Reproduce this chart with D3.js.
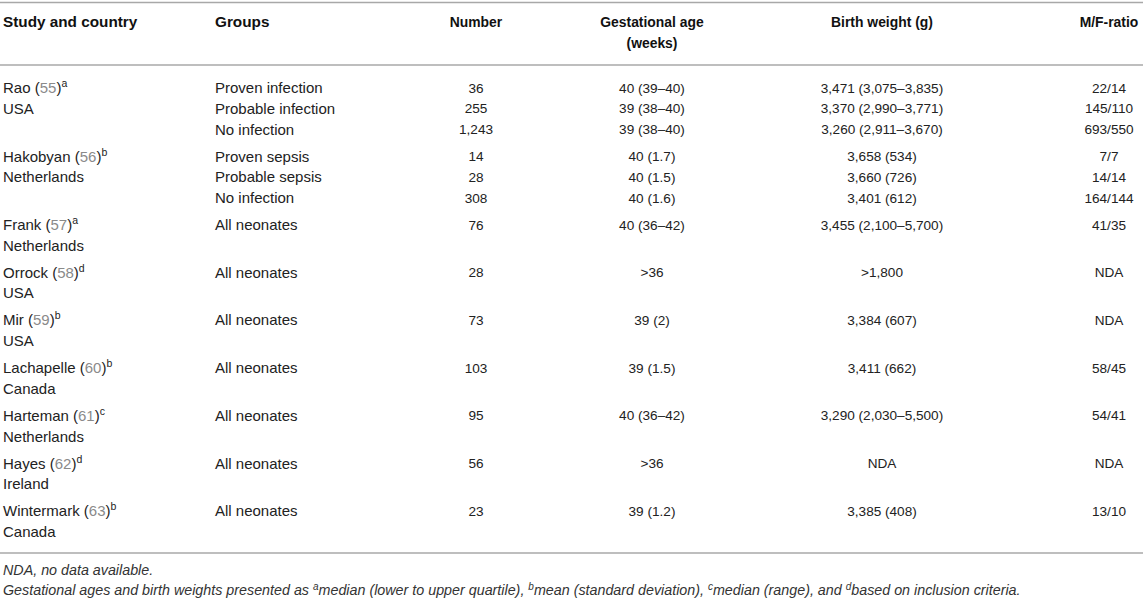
<!DOCTYPE html>
<html>
<head>
<meta charset="utf-8">
<script src="https://cdn.jsdelivr.net/npm/d3@7"></script>
<style>
  html, body { margin: 0; padding: 0; background: #fff; }
  svg { display: block; font-family: "Liberation Sans", Arial, Helvetica, sans-serif; }
</style>
</head>
<body>
<svg id="table" width="1143" height="601"></svg>
<script>
// table contents
const studies = ["Rao", "Hakobyan", "Frank", "Orrock", "Mir", "Lachapelle", "Harteman", "Hayes", "Wintermark"];
const refs = ["55", "56", "57", "58", "59", "60", "61", "62", "63"];
const notes = ["a", "b", "a", "d", "b", "b", "c", "d", "b"];
const countries = ["USA", "Netherlands", "Netherlands", "USA", "USA", "Canada", "Netherlands", "Ireland", "Canada"];
const groups = [
  ["Proven infection", "Probable infection", "No infection"],
  ["Proven sepsis", "Probable sepsis", "No infection"],
  ["All neonates"], ["All neonates"], ["All neonates"], ["All neonates"],
  ["All neonates"], ["All neonates"], ["All neonates"]
];
const numbers = [["36", "255", "1,243"], ["14", "28", "308"], ["76"], ["28"], ["73"], ["103"], ["95"], ["56"], ["23"]];
const gestAges = [
  ["40 (39–40)", "39 (38–40)", "39 (38–40)"],
  ["40 (1.7)", "40 (1.5)", "40 (1.6)"],
  ["40 (36–42)"], [">36"], ["39 (2)"], ["39 (1.5)"], ["40 (36–42)"], [">36"], ["39 (1.2)"]
];
const birthWeights = [
  ["3,471 (3,075–3,835)", "3,370 (2,990–3,771)", "3,260 (2,911–3,670)"],
  ["3,658 (534)", "3,660 (726)", "3,401 (612)"],
  ["3,455 (2,100–5,700)"], [">1,800"], ["3,384 (607)"], ["3,411 (662)"],
  ["3,290 (2,030–5,500)"], ["NDA"], ["3,385 (408)"]
];
const mfRatios = [["22/14", "145/110", "693/550"], ["7/7", "14/14", "164/144"], ["41/35"], ["NDA"], ["NDA"], ["58/45"], ["54/41"], ["NDA"], ["13/10"]];
const headers = [["Study and country"], ["Groups"], ["Number"], ["Gestational age", "(weeks)"], ["Birth weight (g)"], ["M/F-ratio"]];
const footNote1 = "NDA, no data available.";
const footNote2 = [
  ["", "Gestational ages and birth weights presented as "],
  ["a", "median (lower to upper quartile), "],
  ["b", "mean (standard deviation), "],
  ["c", "median (range), and "],
  ["d", "based on inclusion criteria."]
];

const svg = d3.select("#table");
const W = 1143;
const ink = "#222";
const ruleColor = "#a8a8a8";

// column positions and font sizes
const colKeys = ["study", "group", "number", "gest", "weight", "ratio"];
const colX = d3.scaleOrdinal().domain(colKeys).range([3, 215, 476, 652, 882, 1109]);
const colAnchor = d3.scaleOrdinal().domain(colKeys).range(["start", "start", "middle", "middle", "middle", "middle"]);
const colSize = d3.scaleOrdinal().domain(colKeys).range([15, 15, 13.6, 13.6, 13.6, 13.6]);

// vertical layout: line index within body + gap per study block
const lineY = d3.scaleLinear().domain([0, 1]).range([88, 108.7]);
const blockGap = 6.3;

// rules
const rules = [2.5, 65, 553];
svg.append("g")
  .selectAll("line")
  .data(rules)
  .join("line")
  .attr("x1", 0).attr("x2", W)
  .attr("y1", d => d).attr("y2", d => d)
  .attr("stroke", ruleColor)
  .attr("stroke-width", 1.4);

// header
const headY = d3.scaleLinear().domain([0, 1]).range([22, 43]);
const head = svg.append("g").attr("font-weight", "bold").attr("fill", "#111");
headers.forEach((lines, i) => {
  lines.forEach((t, k) => {
    head.append("text")
      .attr("x", colX(colKeys[i]))
      .attr("y", headY(k))
      .attr("dy", "0.35em")
      .attr("font-size", colSize(colKeys[i]) + 0.3)
      .attr("text-anchor", colAnchor(colKeys[i]))
      .text(t);
  });
});

// body rows
const body = svg.append("g").attr("fill", ink);
let line = 0;
studies.forEach((s, g) => {
  const y = k => lineY(line + k) + g * blockGap;

  // study name with reference and footnote mark
  const t = body.append("text")
    .attr("x", colX("study")).attr("y", y(0)).attr("dy", "0.35em")
    .attr("font-size", colSize("study"));
  t.append("tspan").text(s + " (");
  t.append("tspan").attr("fill", "#8a8a8a").text(refs[g]);
  t.append("tspan").text(")");
  t.append("tspan").attr("font-size", 10.5).attr("dy", -6).text(notes[g]);

  body.append("text")
    .attr("x", colX("study")).attr("y", y(1)).attr("dy", "0.35em")
    .attr("font-size", colSize("study"))
    .text(countries[g]);

  const cols = [["group", groups[g]], ["number", numbers[g]], ["gest", gestAges[g]], ["weight", birthWeights[g]], ["ratio", mfRatios[g]]];
  cols.forEach(([key, vals]) => {
    body.append("g")
      .selectAll("text")
      .data(vals)
      .join("text")
      .attr("x", colX(key))
      .attr("y", (d, k) => y(k))
      .attr("dy", "0.35em")
      .attr("font-size", colSize(key))
      .attr("text-anchor", colAnchor(key))
      .text(d => d);
  });

  line += Math.max(2, groups[g].length);
});

// footnotes
const foot = svg.append("g").attr("font-size", 14.3).attr("font-style", "italic").attr("fill", "#333");
foot.append("text").attr("x", 3).attr("y", 570).attr("dy", "0.35em").text(footNote1);
const f2 = foot.append("text").attr("x", 3).attr("y", 590).attr("dy", "0.35em");
footNote2.forEach(([sup, txt]) => {
  if (sup) {
    f2.append("tspan").attr("font-size", 10).attr("dy", -5.5).text(sup);
    f2.append("tspan").attr("dy", 5.5).text(txt);
  } else {
    f2.append("tspan").text(txt);
  }
});
</script>
</body>
</html>
